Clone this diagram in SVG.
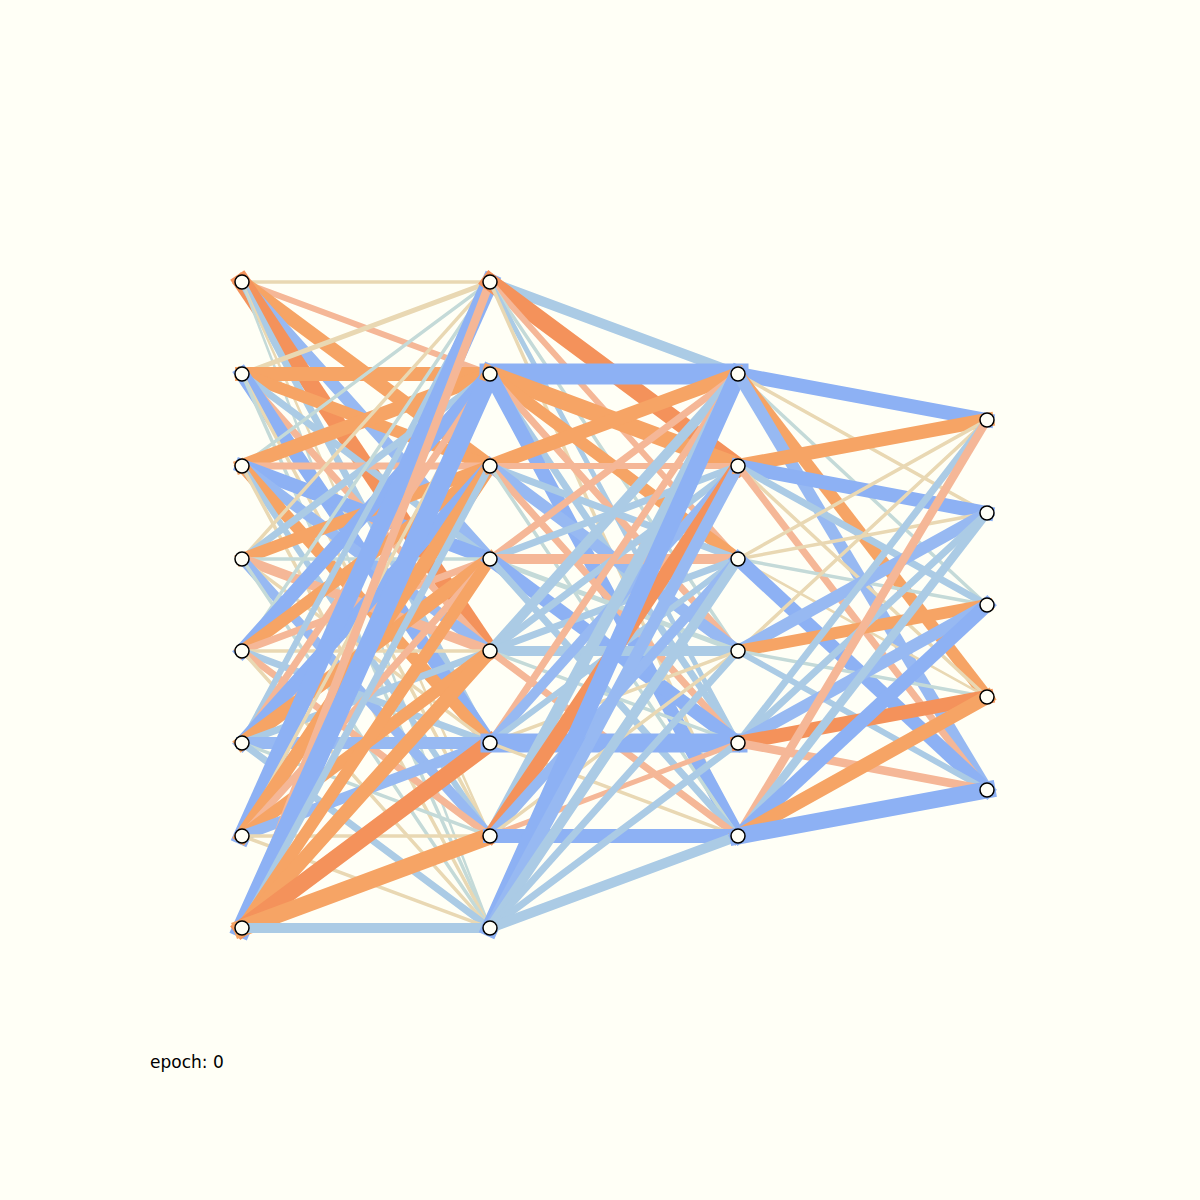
<svg xmlns="http://www.w3.org/2000/svg" width="1200" height="1200" viewBox="0 0 1200 1200">
<style>
line{stroke-linecap:square;fill:none}
.B{stroke:#8db1f4}.b{stroke:#97b9f2}.L{stroke:#abcbe5}.l{stroke:#c4dad8}
.T{stroke:#e9d8b3}.S{stroke:#f5b797}.O{stroke:#f6a465}.R{stroke:#f4925b}
.node{fill:#fffff6;stroke:#000;stroke-width:1.5}
.lbl{font-family:"DejaVu Sans",sans-serif;font-size:17px;fill:#000}
</style>
<rect width="1200" height="1200" fill="#fffff6"/>
<g id="connectors">
<line class="T" stroke-width="3.5" x1="242" y1="282" x2="490" y2="282"/>
<line class="S" stroke-width="6" x1="242" y1="282" x2="490" y2="374"/>
<line class="O" stroke-width="14" x1="242" y1="282" x2="490" y2="466"/>
<line class="b" stroke-width="12" x1="242" y1="282" x2="490" y2="559"/>
<line class="R" stroke-width="17" x1="242" y1="282" x2="490" y2="651"/>
<line class="L" stroke-width="7" x1="242" y1="282" x2="490" y2="743"/>
<line class="T" stroke-width="2.5" x1="242" y1="282" x2="490" y2="836"/>
<line class="l" stroke-width="2.5" x1="242" y1="282" x2="490" y2="928"/>
<line class="T" stroke-width="5" x1="242" y1="374" x2="490" y2="282"/>
<line class="O" stroke-width="14" x1="242" y1="374" x2="490" y2="374"/>
<line class="O" stroke-width="12" x1="242" y1="374" x2="490" y2="466"/>
<line class="L" stroke-width="7" x1="242" y1="374" x2="490" y2="559"/>
<line class="S" stroke-width="7" x1="242" y1="374" x2="490" y2="651"/>
<line class="B" stroke-width="14" x1="242" y1="374" x2="490" y2="743"/>
<line class="T" stroke-width="3.5" x1="242" y1="374" x2="490" y2="836"/>
<line class="l" stroke-width="3.5" x1="242" y1="374" x2="490" y2="928"/>
<line class="l" stroke-width="3.5" x1="242" y1="466" x2="490" y2="282"/>
<line class="O" stroke-width="14" x1="242" y1="466" x2="490" y2="374"/>
<line class="S" stroke-width="7" x1="242" y1="466" x2="490" y2="466"/>
<line class="B" stroke-width="14" x1="242" y1="466" x2="490" y2="559"/>
<line class="b" stroke-width="11" x1="242" y1="466" x2="490" y2="651"/>
<line class="O" stroke-width="12" x1="242" y1="466" x2="490" y2="743"/>
<line class="L" stroke-width="6" x1="242" y1="466" x2="490" y2="836"/>
<line class="T" stroke-width="3.5" x1="242" y1="466" x2="490" y2="928"/>
<line class="T" stroke-width="3.5" x1="242" y1="559" x2="490" y2="282"/>
<line class="L" stroke-width="7" x1="242" y1="559" x2="490" y2="374"/>
<line class="O" stroke-width="12" x1="242" y1="559" x2="490" y2="466"/>
<line class="l" stroke-width="3.5" x1="242" y1="559" x2="490" y2="559"/>
<line class="S" stroke-width="10" x1="242" y1="559" x2="490" y2="651"/>
<line class="T" stroke-width="3.5" x1="242" y1="559" x2="490" y2="743"/>
<line class="b" stroke-width="10" x1="242" y1="559" x2="490" y2="836"/>
<line class="l" stroke-width="3.5" x1="242" y1="559" x2="490" y2="928"/>
<line class="l" stroke-width="3.5" x1="242" y1="651" x2="490" y2="282"/>
<line class="B" stroke-width="14" x1="242" y1="651" x2="490" y2="374"/>
<line class="O" stroke-width="12" x1="242" y1="651" x2="490" y2="466"/>
<line class="S" stroke-width="7" x1="242" y1="651" x2="490" y2="559"/>
<line class="T" stroke-width="3.5" x1="242" y1="651" x2="490" y2="651"/>
<line class="L" stroke-width="7" x1="242" y1="651" x2="490" y2="743"/>
<line class="S" stroke-width="7" x1="242" y1="651" x2="490" y2="836"/>
<line class="T" stroke-width="3.5" x1="242" y1="651" x2="490" y2="928"/>
<line class="L" stroke-width="6" x1="242" y1="743" x2="490" y2="282"/>
<line class="S" stroke-width="7" x1="242" y1="743" x2="490" y2="374"/>
<line class="B" stroke-width="14" x1="242" y1="743" x2="490" y2="466"/>
<line class="O" stroke-width="14" x1="242" y1="743" x2="490" y2="559"/>
<line class="L" stroke-width="7" x1="242" y1="743" x2="490" y2="651"/>
<line class="b" stroke-width="12" x1="242" y1="743" x2="490" y2="743"/>
<line class="l" stroke-width="3.5" x1="242" y1="743" x2="490" y2="836"/>
<line class="L" stroke-width="7" x1="242" y1="743" x2="490" y2="928"/>
<line class="B" stroke-width="17" x1="242" y1="836" x2="490" y2="282"/>
<line class="T" stroke-width="3.5" x1="242" y1="836" x2="490" y2="374"/>
<line class="O" stroke-width="14" x1="242" y1="836" x2="490" y2="466"/>
<line class="S" stroke-width="7" x1="242" y1="836" x2="490" y2="559"/>
<line class="O" stroke-width="12" x1="242" y1="836" x2="490" y2="651"/>
<line class="b" stroke-width="11" x1="242" y1="836" x2="490" y2="743"/>
<line class="T" stroke-width="3.5" x1="242" y1="836" x2="490" y2="836"/>
<line class="T" stroke-width="3.5" x1="242" y1="836" x2="490" y2="928"/>
<line class="S" stroke-width="8.5" x1="242" y1="928" x2="490" y2="282"/>
<line class="B" stroke-width="19" x1="242" y1="928" x2="490" y2="374"/>
<line class="L" stroke-width="7" x1="242" y1="928" x2="490" y2="466"/>
<line class="O" stroke-width="12" x1="242" y1="928" x2="490" y2="559"/>
<line class="O" stroke-width="14" x1="242" y1="928" x2="490" y2="651"/>
<line class="R" stroke-width="17" x1="242" y1="928" x2="490" y2="743"/>
<line class="O" stroke-width="17" x1="242" y1="928" x2="490" y2="836"/>
<line class="L" stroke-width="10" x1="242" y1="928" x2="490" y2="928"/>

<line class="L" stroke-width="10" x1="490" y1="282" x2="738" y2="374"/>
<line class="R" stroke-width="17" x1="490" y1="282" x2="738" y2="466"/>
<line class="S" stroke-width="6" x1="490" y1="282" x2="738" y2="559"/>
<line class="l" stroke-width="3.5" x1="490" y1="282" x2="738" y2="651"/>
<line class="L" stroke-width="5" x1="490" y1="282" x2="738" y2="743"/>
<line class="T" stroke-width="3.5" x1="490" y1="282" x2="738" y2="836"/>
<line class="B" stroke-width="21" x1="490" y1="374" x2="738" y2="374"/>
<line class="O" stroke-width="17" x1="490" y1="374" x2="738" y2="466"/>
<line class="O" stroke-width="12" x1="490" y1="374" x2="738" y2="559"/>
<line class="S" stroke-width="7" x1="490" y1="374" x2="738" y2="651"/>
<line class="L" stroke-width="7" x1="490" y1="374" x2="738" y2="743"/>
<line class="B" stroke-width="14" x1="490" y1="374" x2="738" y2="836"/>
<line class="O" stroke-width="14" x1="490" y1="466" x2="738" y2="374"/>
<line class="S" stroke-width="6" x1="490" y1="466" x2="738" y2="466"/>
<line class="L" stroke-width="7" x1="490" y1="466" x2="738" y2="559"/>
<line class="b" stroke-width="12" x1="490" y1="466" x2="738" y2="651"/>
<line class="S" stroke-width="7" x1="490" y1="466" x2="738" y2="743"/>
<line class="l" stroke-width="3.5" x1="490" y1="466" x2="738" y2="836"/>
<line class="S" stroke-width="7" x1="490" y1="559" x2="738" y2="374"/>
<line class="L" stroke-width="7" x1="490" y1="559" x2="738" y2="466"/>
<line class="S" stroke-width="10" x1="490" y1="559" x2="738" y2="559"/>
<line class="l" stroke-width="5" x1="490" y1="559" x2="738" y2="651"/>
<line class="B" stroke-width="14" x1="490" y1="559" x2="738" y2="743"/>
<line class="L" stroke-width="7" x1="490" y1="559" x2="738" y2="836"/>
<line class="L" stroke-width="10" x1="490" y1="651" x2="738" y2="374"/>
<line class="L" stroke-width="7" x1="490" y1="651" x2="738" y2="466"/>
<line class="L" stroke-width="7" x1="490" y1="651" x2="738" y2="559"/>
<line class="L" stroke-width="10" x1="490" y1="651" x2="738" y2="651"/>
<line class="l" stroke-width="3.5" x1="490" y1="651" x2="738" y2="743"/>
<line class="S" stroke-width="7" x1="490" y1="651" x2="738" y2="836"/>
<line class="S" stroke-width="7" x1="490" y1="743" x2="738" y2="374"/>
<line class="b" stroke-width="10" x1="490" y1="743" x2="738" y2="466"/>
<line class="L" stroke-width="6" x1="490" y1="743" x2="738" y2="559"/>
<line class="T" stroke-width="3.5" x1="490" y1="743" x2="738" y2="651"/>
<line class="B" stroke-width="19" x1="490" y1="743" x2="738" y2="743"/>
<line class="T" stroke-width="3.5" x1="490" y1="743" x2="738" y2="836"/>
<line class="L" stroke-width="12" x1="490" y1="836" x2="738" y2="374"/>
<line class="R" stroke-width="14" x1="490" y1="836" x2="738" y2="466"/>
<line class="b" stroke-width="10" x1="490" y1="836" x2="738" y2="559"/>
<line class="T" stroke-width="3.5" x1="490" y1="836" x2="738" y2="651"/>
<line class="S" stroke-width="5" x1="490" y1="836" x2="738" y2="743"/>
<line class="B" stroke-width="14" x1="490" y1="836" x2="738" y2="836"/>
<line class="B" stroke-width="17" x1="490" y1="928" x2="738" y2="374"/>
<line class="b" stroke-width="12" x1="490" y1="928" x2="738" y2="466"/>
<line class="L" stroke-width="10" x1="490" y1="928" x2="738" y2="559"/>
<line class="L" stroke-width="7" x1="490" y1="928" x2="738" y2="651"/>
<line class="L" stroke-width="7" x1="490" y1="928" x2="738" y2="743"/>
<line class="L" stroke-width="10" x1="490" y1="928" x2="738" y2="836"/>

<line class="B" stroke-width="14" x1="738" y1="374" x2="987" y2="420"/>
<line class="T" stroke-width="3.5" x1="738" y1="374" x2="987" y2="513"/>
<line class="l" stroke-width="3.5" x1="738" y1="374" x2="987" y2="605"/>
<line class="O" stroke-width="12" x1="738" y1="374" x2="987" y2="697"/>
<line class="b" stroke-width="12" x1="738" y1="374" x2="987" y2="790"/>
<line class="O" stroke-width="14" x1="738" y1="466" x2="987" y2="420"/>
<line class="B" stroke-width="14" x1="738" y1="466" x2="987" y2="513"/>
<line class="L" stroke-width="7" x1="738" y1="466" x2="987" y2="605"/>
<line class="T" stroke-width="3.5" x1="738" y1="466" x2="987" y2="697"/>
<line class="S" stroke-width="7" x1="738" y1="466" x2="987" y2="790"/>
<line class="T" stroke-width="3.5" x1="738" y1="559" x2="987" y2="420"/>
<line class="T" stroke-width="3.5" x1="738" y1="559" x2="987" y2="513"/>
<line class="l" stroke-width="3.5" x1="738" y1="559" x2="987" y2="605"/>
<line class="T" stroke-width="2.5" x1="738" y1="559" x2="987" y2="697"/>
<line class="B" stroke-width="14" x1="738" y1="559" x2="987" y2="790"/>
<line class="T" stroke-width="3.5" x1="738" y1="651" x2="987" y2="420"/>
<line class="b" stroke-width="12" x1="738" y1="651" x2="987" y2="513"/>
<line class="O" stroke-width="12" x1="738" y1="651" x2="987" y2="605"/>
<line class="l" stroke-width="3.5" x1="738" y1="651" x2="987" y2="697"/>
<line class="L" stroke-width="6" x1="738" y1="651" x2="987" y2="790"/>
<line class="L" stroke-width="7" x1="738" y1="743" x2="987" y2="420"/>
<line class="L" stroke-width="7" x1="738" y1="743" x2="987" y2="513"/>
<line class="b" stroke-width="12" x1="738" y1="743" x2="987" y2="605"/>
<line class="R" stroke-width="14" x1="738" y1="743" x2="987" y2="697"/>
<line class="S" stroke-width="8.5" x1="738" y1="743" x2="987" y2="790"/>
<line class="S" stroke-width="8.5" x1="738" y1="836" x2="987" y2="420"/>
<line class="L" stroke-width="8.5" x1="738" y1="836" x2="987" y2="513"/>
<line class="B" stroke-width="14" x1="738" y1="836" x2="987" y2="605"/>
<line class="O" stroke-width="14" x1="738" y1="836" x2="987" y2="697"/>
<line class="B" stroke-width="17" x1="738" y1="836" x2="987" y2="790"/>
</g>
<g id="layer1">
<circle id="n1_0" class="node" cx="242" cy="282" r="7"/>
<circle id="n1_1" class="node" cx="242" cy="374" r="7"/>
<circle id="n1_2" class="node" cx="242" cy="466" r="7"/>
<circle id="n1_3" class="node" cx="242" cy="559" r="7"/>
<circle id="n1_4" class="node" cx="242" cy="651" r="7"/>
<circle id="n1_5" class="node" cx="242" cy="743" r="7"/>
<circle id="n1_6" class="node" cx="242" cy="836" r="7"/>
<circle id="n1_7" class="node" cx="242" cy="928" r="7"/>
</g>
<g id="layer2">
<circle id="n2_0" class="node" cx="490" cy="282" r="7"/>
<circle id="n2_1" class="node" cx="490" cy="374" r="7"/>
<circle id="n2_2" class="node" cx="490" cy="466" r="7"/>
<circle id="n2_3" class="node" cx="490" cy="559" r="7"/>
<circle id="n2_4" class="node" cx="490" cy="651" r="7"/>
<circle id="n2_5" class="node" cx="490" cy="743" r="7"/>
<circle id="n2_6" class="node" cx="490" cy="836" r="7"/>
<circle id="n2_7" class="node" cx="490" cy="928" r="7"/>
</g>
<g id="layer3">
<circle id="n3_0" class="node" cx="738" cy="374" r="7"/>
<circle id="n3_1" class="node" cx="738" cy="466" r="7"/>
<circle id="n3_2" class="node" cx="738" cy="559" r="7"/>
<circle id="n3_3" class="node" cx="738" cy="651" r="7"/>
<circle id="n3_4" class="node" cx="738" cy="743" r="7"/>
<circle id="n3_5" class="node" cx="738" cy="836" r="7"/>
</g>
<g id="layer4">
<circle id="n4_0" class="node" cx="987" cy="420" r="7"/>
<circle id="n4_1" class="node" cx="987" cy="513" r="7"/>
<circle id="n4_2" class="node" cx="987" cy="605" r="7"/>
<circle id="n4_3" class="node" cx="987" cy="697" r="7"/>
<circle id="n4_4" class="node" cx="987" cy="790" r="7"/>
</g>
<text class="lbl" x="150" y="1068">epoch: 0</text>
</svg>
